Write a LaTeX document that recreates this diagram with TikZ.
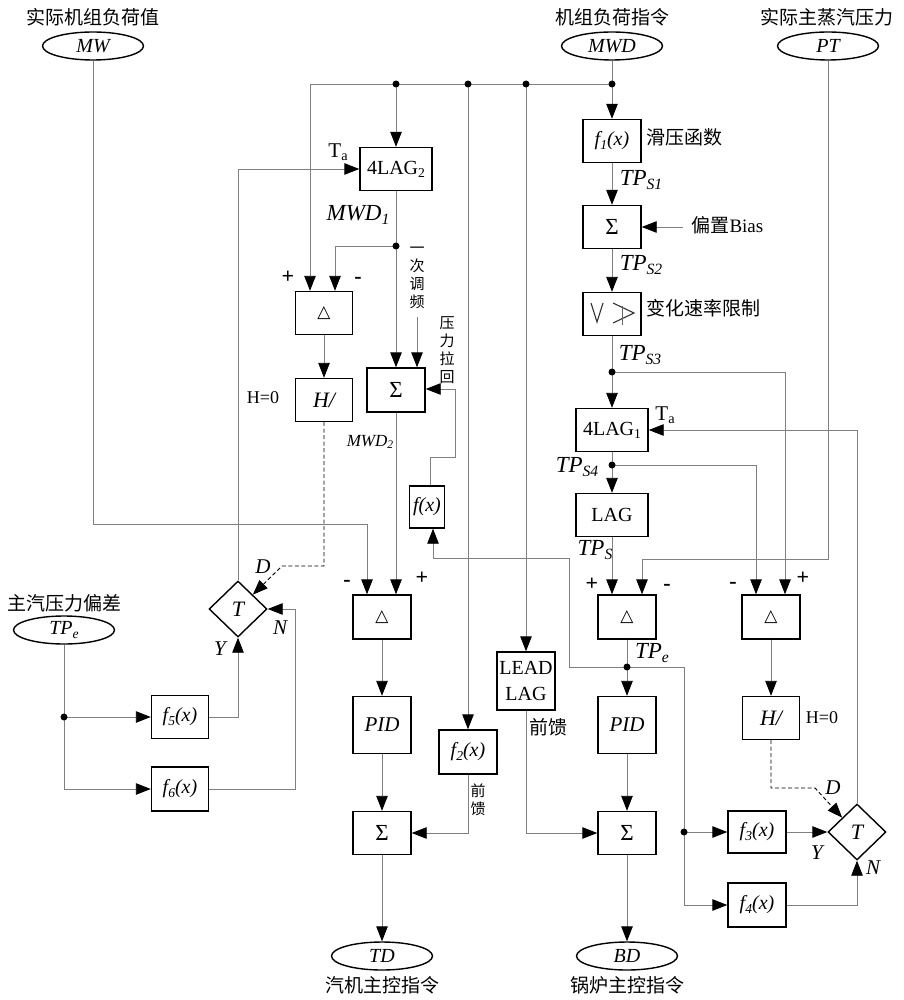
\documentclass[tikz,border=0pt]{standalone}
\usepackage{fontspec}
\setmainfont{Liberation Serif}
\newfontfamily\cjk{Noto Sans CJK SC}
\newfontfamily\dejavu{DejaVu Sans}
\usetikzlibrary{arrows.meta,shapes.geometric,calc}
\newcommand\subx[1]{\raisebox{-0.35ex}{\scalebox{0.68}{#1}}}
\newcommand\sigm{{\fontsize{23}{24}\selectfont Σ}}
\newcommand\delt{{\fontsize{17}{18}\selectfont\dejavu △}}
\tikzset{
 blk/.style={draw=black,line width=1.4pt,minimum width=58pt,minimum height=43pt,inner sep=0pt,font=\fontsize{20}{24}\selectfont},
 ell/.style={draw=black,line width=1.4pt,ellipse,minimum width=101pt,minimum height=28pt,inner sep=0pt,font=\fontsize{20}{22}\selectfont\itshape},
 dia/.style={draw=black,line width=1.4pt,diamond,minimum width=58pt,minimum height=56pt,inner sep=0pt,font=\fontsize{22}{24}\selectfont\itshape},
 conn/.style={draw=black!50,line width=0.9pt},
 arr/.style={conn,-{Triangle[length=15pt,width=11.5pt,color=black]}},
 dsh/.style={draw=black,line width=0.9pt,dash pattern=on 4pt off 2.5pt},
 darr/.style={dsh,-{Triangle[length=15pt,width=11.5pt,color=black]}},
 cjkl/.style={font=\fontsize{19}{22}\selectfont\cjk},
 cjks/.style={font=\fontsize{15}{18}\selectfont\cjk,align=center},
 lab/.style={font=\fontsize{23}{26}\selectfont\itshape},
 labm/.style={font=\fontsize{17}{20}\selectfont\itshape},
 labd/.style={font=\fontsize{21}{24}\selectfont\itshape},
 labs/.style={font=\fontsize{18}{20}\selectfont},
 labt/.style={font=\fontsize{21}{24}\selectfont},
 pm/.style={font=\fontsize{22}{24}\selectfont\bfseries},
}
\begin{document}
\begin{tikzpicture}[x=1pt,y=-1pt]
\fill[white] (0,0) rectangle (903,1000);
\useasboundingbox (0,0) rectangle (903,1000);

% ---- terminals
\node[ell] (MW) at (93,46) {MW};
\node[ell] (MWD) at (612,46) {MWD};
\node[ell] (PT) at (828,46) {PT};
\node[ell] (TPe) at (64,630) {TP\subx{e}};
\node[ell] (TD) at (382,956) {TD};
\node[ell] (BD) at (627,956) {BD};

% ---- blocks
\node[blk,minimum width=72pt] (lag2) at (396,169) {4LAG\subx{2}};
\node[blk,minimum width=57pt] (dl) at (324,313) {\delt};
\node[blk,minimum width=57pt,font=\fontsize{22}{24}\selectfont\itshape] (hl) at (324,400) {H/};
\node[blk,minimum height=44pt] (sp) at (396,390) {\sigm};
\node[blk,minimum width=35pt,minimum height=42pt,font=\fontsize{20}{24}\selectfont\itshape] (fx) at (427,507) {f(x)};
\node[blk,minimum height=44pt] (dt) at (382,617) {\delt};
\node[blk,minimum height=57pt,font=\fontsize{21}{24}\selectfont\itshape] (pidt) at (382,725) {PID};
\node[blk] (st) at (382,833) {\sigm};
\node[blk,minimum height=44pt,font=\fontsize{20}{24}\selectfont\itshape] (f2) at (468,752) {f\subx{2}(x)};
\node[blk,minimum height=58pt,align=center,font=\fontsize{20}{26}\selectfont] (ll) at (526,681) {LEAD\\LAG};
\node[blk,font=\fontsize{20}{24}\selectfont\itshape] (f1) at (612,141) {f\subx{1}(x)};
\node[blk] (sb) at (612,227) {\sigm};
\node[blk] (rl) at (612,314) {};
\node[blk,minimum width=72pt] (lag1) at (612,430) {4LAG\subx{1}};
\node[blk,minimum width=72pt] (lag) at (612,515) {LAG};
\node[blk,minimum height=44pt] (db) at (627,617) {\delt};
\node[blk,minimum height=57pt,font=\fontsize{21}{24}\selectfont\itshape] (pidb) at (627,725) {PID};
\node[blk] (sbo) at (627,833) {\sigm};
\node[blk,minimum height=44pt] (dr) at (771,617) {\delt};
\node[blk,minimum width=57pt,font=\fontsize{22}{24}\selectfont\itshape] (hr) at (771,718) {H/};
\node[blk,minimum height=42pt,font=\fontsize{20}{24}\selectfont\itshape] (f3) at (757,832) {f\subx{3}(x)};
\node[blk,minimum height=44pt,font=\fontsize{20}{24}\selectfont\itshape] (f4) at (757,905) {f\subx{4}(x)};
\node[blk,minimum width=57pt,font=\fontsize{20}{24}\selectfont\itshape] (f5) at (180,717) {f\subx{5}(x)};
\node[blk,minimum width=57pt,minimum height=44pt,font=\fontsize{20}{24}\selectfont\itshape] (f6) at (180,789) {f\subx{6}(x)};
\node[dia] (Tl) at (238,609) {T};
\node[dia] (Tr) at (857,832) {T};

% rate limiter symbol
\draw[line width=1.1pt,black!80] ($(rl.center)+(-21,-11)$) -- ($(rl.center)+(-15,8)$) -- ($(rl.center)+(-9,-11)$);
\draw[line width=1.1pt,black!80] ($(rl.center)+(1,-11)$) -- ($(rl.center)+(22,-1)$) -- ($(rl.center)+(1,9)$);
\draw[line width=1pt,black!60] ($(rl.center)+(10,-8)$) -- ($(rl.center)+(10,11)$);

% ---- junctions and bends
\coordinate (jm) at (612,84);
\coordinate (j1) at (396,84);
\coordinate (j2) at (468,84);
\coordinate (j3) at (526,84);
\coordinate (tl) at (310,84);
\coordinate (jw) at (396,246);
\coordinate (jwl) at (335,246);
\coordinate (j4) at (612,372);
\coordinate (j5) at (612,465);
\coordinate (je) at (627,667);
\coordinate (jf) at (684,832);
\coordinate (jt) at (64,717);

% ---- connectors
\coordinate (mwb) at (93,524); \coordinate (mwc) at (367,524);
\draw[arr] (MW.south) -- (mwb) -- (mwc) -- (mwc |- dt.north);
\draw[conn] (MWD.south) -- (jm);
\draw[arr] (jm) -- (f1.north);
\draw[arr] (jm) -- (tl) -- (tl |- dl.north);
\draw[arr] (j1) -- (lag2.north);
\draw[arr] (j2) -- (f2.north);
\draw[arr] (j3) -- (ll.north);
\draw[conn] (lag2.south) -- (jw);
\draw[arr] (jw) -- (sp.north);
\draw[arr] (jw) -- (jwl) -- (jwl |- dl.north);
\coordinate (yc) at (417,317);
\draw[arr] (yc) -- (yc |- sp.north);
\draw[arr] (dl) -- (hl);
\coordinate (hd1) at (324,566); \coordinate (hd2) at (282,566);
\draw[darr] (hl.south) -- (hd1) -- (hd2) -- ($(Tl.north)!0.5!(Tl.east)$);
\draw[arr] (sp.south) -- (sp.south |- dt.north);
\coordinate (fa) at (569,667); \coordinate (fb) at (569,558); \coordinate (fc) at (433,558);
\draw[arr] (je) -- (fa) -- (fb) -- (fc) -- (fc |- fx.south);
\coordinate (fd) at (430,457); \coordinate (fe) at (455,457); \coordinate (ff) at (455,389);
\draw[arr] (fx.north -| fd) -- (fd) -- (fe) -- (ff) -- (ff -| sp.east);
\draw[arr] (dt) -- (pidt);
\draw[arr] (pidt) -- (st);
\draw[arr] (st) -- (TD);
\coordinate (f2c) at (468,833);
\draw[arr] (f2.south) -- (f2c) -- (st.east);
\coordinate (llc) at (526,833);
\draw[arr] (ll.south) -- (llc) -- (sbo.west);
\draw[arr] (f1) -- (sb);
\draw[arr] (sb) -- (rl);
\draw[conn] (rl.south) -- (j4);
\draw[arr] (j4) -- (lag1.north);
\coordinate (bias) at (683,227);
\draw[arr] (bias) -- (sb.east);
\coordinate (t3) at (785,372);
\draw[arr] (j4) -- (t3) -- (t3 |- dr.north);
\draw[conn] (lag1.south) -- (j5);
\draw[arr] (j5) -- (lag.north);
\coordinate (t4) at (756,465);
\draw[arr] (j5) -- (t4) -- (t4 |- dr.north);
\draw[arr] (lag.south) -- (lag.south |- db.north);
\coordinate (pt1) at (828,559); \coordinate (pt2) at (642,559);
\draw[arr] (PT.south) -- (pt1) -- (pt2) -- (pt2 |- db.north);
\draw[conn] (db.south) -- (je);
\draw[arr] (je) -- (pidb.north);
\draw[arr] (pidb) -- (sbo);
\draw[arr] (sbo) -- (BD);
\coordinate (r1) at (684,667); \coordinate (r2) at (684,905);
\draw[arr] (je) -- (r1) -- (r2) -- (f4.west);
\draw[arr] (jf) -- (f3.west);
\draw[arr] (f3.east) -- (Tr.west);
\coordinate (r3) at (857,905);
\draw[arr] (f4.east) -- (r3) -- (Tr.south);
\coordinate (r4) at (857,430);
\draw[arr] (Tr.north) -- (r4) -- (lag1.east);
\draw[arr] (dr) -- (hr);
\coordinate (h1) at (771,788); \coordinate (h2) at (815,788);
\draw[darr] (hr.south) -- (h1) -- (h2) -- ($(Tr.north)!0.5!(Tr.west)$);
\coordinate (l1) at (64,789);
\draw[conn] (TPe.south) -- (jt);
\draw[arr] (jt) -- (f5.west);
\draw[arr] (jt) -- (l1) -- (f6.west);
\coordinate (l2) at (238,717);
\draw[arr] (f5.east) -- (l2) -- (Tl.south);
\coordinate (l3) at (295,789); \coordinate (l4) at (295,609);
\draw[arr] (f6.east) -- (l3) -- (l4) -- (Tl.east);
\coordinate (l5) at (238,169);
\draw[arr] (Tl.north) -- (l5) -- (lag2.west);

\foreach \p in {jm,j1,j2,j3,jw,j4,j5,je,jf,jt} \fill (\p) circle[radius=3.5pt];

% ---- Chinese labels
\node[cjkl] (lMW) at (93,17) {实际机组负荷值};
\node[cjkl] (lMWD) at (612,17) {机组负荷指令};
\node[cjkl] (lPT) at (827,17) {实际主蒸汽压力};
\node[cjkl] (lTPe) at (64,603) {主汽压力偏差};
\node[cjkl] (lTD) at (382,985) {汽机主控指令};
\node[cjkl] (lBD) at (627,985) {锅炉主控指令};
\node[cjkl,anchor=west] (lf1) at (643,137) {滑压函数};
\node[cjkl,anchor=west] (lbias) at (688,225) {偏置{\rmfamily Bias}};
\node[cjkl,anchor=west] (lrl) at (643,308) {变化速率限制};
\node[cjks] (lyc) at (417,278) {一\\次\\调\\频};
\node[cjks] (lyl) at (447,350) {压\\力\\拉\\回};
\node[cjks] (lqk) at (478,800) {前\\馈};
\node[cjkl] (lqk2) at (548,727) {前馈};

% ---- other labels
\node[labt] (ta2) at (338,152) {T\subx{a}};
\node[labt] (ta1) at (665,415) {T\subx{a}};
\node[lab] (lmwd1) at (358,215) {MWD\subx{1}};
\node[labm] (lmwd2) at (370,442) {MWD\subx{2}};
\node[lab] (ltps1) at (641,180) {TP\subx{S1}};
\node[lab] (ltps2) at (641,265) {TP\subx{S2}};
\node[lab] (ltps3) at (640,355) {TP\subx{S3}};
\node[lab] (ltps4) at (577,467) {TP\subx{S4}};
\node[lab] (ltps) at (595,550) {TP\subx{S}};
\node[lab] (ltpe) at (652,653) {TP\subx{e}};
\node[labd] (lD1) at (263,567) {D};
\node[labd] (lN1) at (280,628) {N};
\node[labd] (lY1) at (220,649) {Y};
\node[labd] (lD2) at (833,788) {D};
\node[labd] (lY2) at (817,853) {Y};
\node[labd] (lN2) at (873,868) {N};
\node[labs] (lh1) at (263,398) {H=0};
\node[labs] (lh2) at (822,718) {H=0};
\node[pm] (p1) at (288,277) {+};
\node[pm] (m1) at (358,280) {-};
\node[pm] (m2) at (347,583) {-};
\node[pm] (p2) at (422,578) {+};
\node[pm] (p3) at (592,584) {+};
\node[pm] (m3) at (667,587) {-};
\node[pm] (m4) at (733,585) {-};
\node[pm] (p4) at (803,578) {+};
\end{tikzpicture}
\end{document}
